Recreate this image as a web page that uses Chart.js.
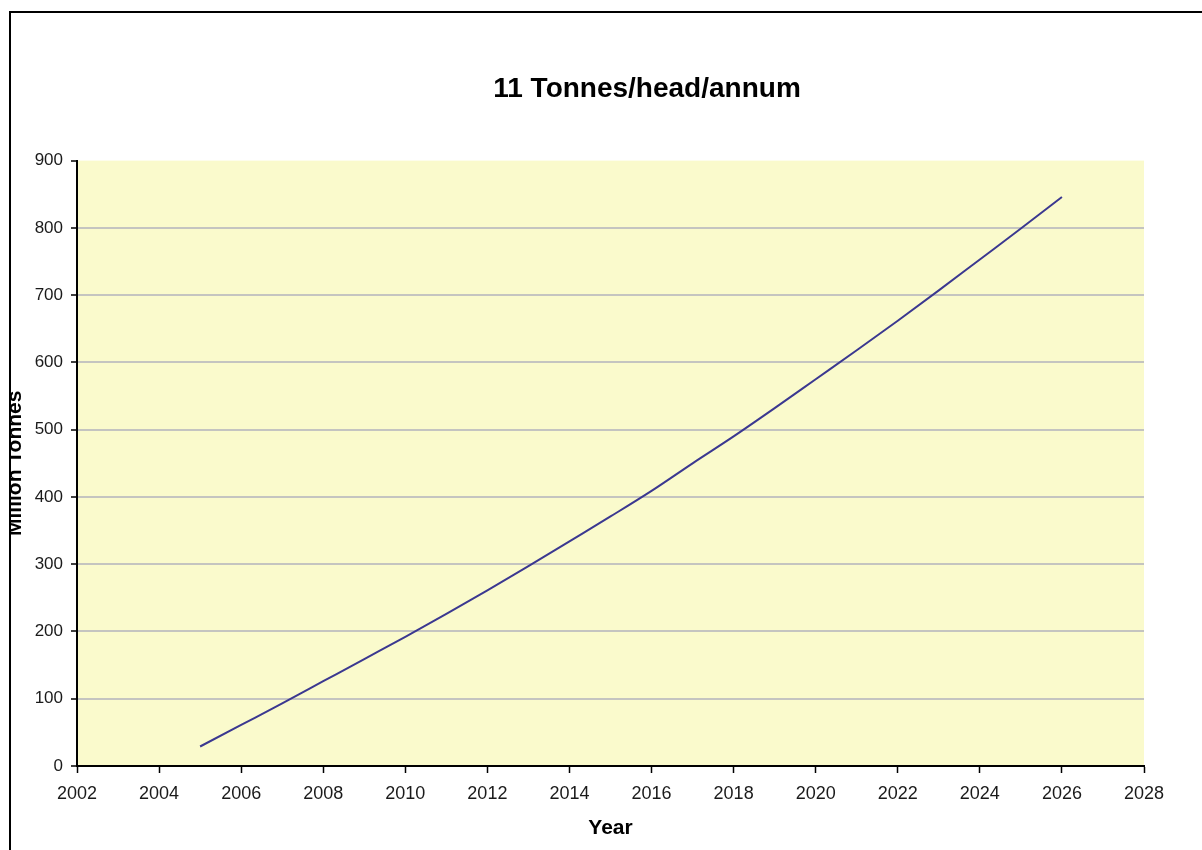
<!DOCTYPE html>
<html>
<head>
<meta charset="utf-8">
<title>11 Tonnes/head/annum</title>
<script src="https://cdn.jsdelivr.net/npm/chart.js@4/dist/chart.umd.min.js"></script>
<style>
  html, body { margin: 0; padding: 0; background: #ffffff; overflow: hidden; }
  #wrap { position: relative; width: 1202px; height: 850px; }
  #chart { position: absolute; left: 0; top: 0; }
  #frame {
    position: absolute; left: 9px; top: 11px; width: 1400px; height: 1000px;
    border-left: 2px solid #000; border-top: 2px solid #000;
    pointer-events: none;
  }
  /* everything outside the frame stays blank */
  #outside { position: absolute; left: 0; top: 0; width: 9px; height: 850px; background: #fff; pointer-events: none; }
</style>
</head>
<body>
<div id="wrap">
  <canvas id="chart" width="1202" height="850"></canvas>
  <div id="outside"></div>
  <div id="frame"></div>
</div>
<script>
// Annual emissions, million tonnes, at 11 tonnes per head per year
const years = [2005, 2006, 2007, 2008, 2009, 2010, 2011, 2012, 2013, 2014, 2015,
               2016, 2017, 2018, 2019, 2020, 2021, 2022, 2023, 2024, 2025, 2026];
const emissions = [29, 61, 93, 126, 159, 192, 226, 261, 297, 334, 371,
                   409, 450, 490, 532, 575, 618, 662, 707, 753, 799, 846];

const xTicks = [2002, 2004, 2006, 2008, 2010, 2012, 2014, 2016, 2018, 2020, 2022, 2024, 2026, 2028];
const yTicks = [0, 100, 200, 300, 400, 500, 600, 700, 800, 900];

const chartTitle = '11 Tonnes/head/annum';
const xTitle = 'Year';
const yTitle = 'Million Tonnes';

const FONT = '"Liberation Sans", Arial, sans-serif';

// Pale yellow plot area behind the series
const plotBackground = {
  id: 'plotBackground',
  beforeDraw(chart) {
    const { ctx, chartArea: a } = chart;
    ctx.save();
    ctx.fillStyle = '#FAFACC';
    ctx.fillRect(a.left, a.top, a.right - a.left, a.bottom - a.top);
    ctx.restore();
  }
};

// Centre the heading slightly right of the plot
const titlePlacement = {
  id: 'titlePlacement',
  afterLayout(chart) {
    const t = chart.titleBlock;
    if (!t) return;
    const w = t.right - t.left;
    const cx = 647;
    t.left = cx - w / 2;
    t.right = cx + w / 2;
  }
};

new Chart(document.getElementById('chart'), {
  type: 'line',
  data: {
    datasets: [{
      data: years.map((y, i) => ({ x: y, y: emissions[i] })),
      borderColor: '#3B3890',
      borderWidth: 2,
      pointRadius: 0,
      cubicInterpolationMode: 'monotone',
      fill: false
    }]
  },
  options: {
    responsive: false,
    animation: false,
    layout: { padding: { left: 0, right: 58, top: 0, bottom: 0 } },
    plugins: {
      legend: { display: false },
      tooltip: { enabled: false },
      title: {
        display: true,
        text: chartTitle,
        color: '#000',
        font: { family: FONT, size: 28, weight: 'bold' },
        padding: { top: 72, bottom: 55 }
      }
    },
    scales: {
      x: {
        type: 'linear',
        min: xTicks[0],
        max: xTicks[xTicks.length - 1],
        afterBuildTicks(scale) { scale.ticks = xTicks.map(v => ({ value: v })); },
        afterFit(scale) { scale.height = 84; },
        ticks: {
          color: '#1a1a1a',
          font: { family: FONT, size: 18 },
          padding: 10,
          maxRotation: 0,
          autoSkip: false,
          callback: v => String(v)
        },
        grid: {
          drawOnChartArea: false,
          drawTicks: true,
          tickLength: 7,
          tickColor: '#000',
          tickWidth: 1.5
        },
        border: { display: true, color: '#000', width: 2 },
        title: {
          display: true,
          text: xTitle,
          color: '#000',
          font: { family: FONT, size: 21, weight: 'bold' },
          padding: { top: 0, bottom: 9 }
        }
      },
      y: {
        type: 'linear',
        min: yTicks[0],
        max: yTicks[yTicks.length - 1],
        afterBuildTicks(scale) { scale.ticks = yTicks.map(v => ({ value: v })); },
        afterFit(scale) { scale.width = 77; },
        ticks: {
          color: '#1a1a1a',
          font: { family: FONT, size: 17 },
          padding: 8,
          callback: v => String(v)
        },
        grid: {
          color: ctx => (ctx.tick && (ctx.tick.value === 900 || ctx.tick.value === 0)) ? 'rgba(0,0,0,0)' : '#C4C4C0',
          lineWidth: 2,
          drawTicks: true,
          tickLength: 6,
          tickColor: '#000',
          tickWidth: 1.5
        },
        border: { display: true, color: '#000', width: 2 },
        title: {
          display: true,
          text: yTitle,
          color: '#000',
          font: { family: FONT, size: 21, weight: 'bold' },
          padding: { top: 3, bottom: 0 }
        }
      }
    }
  },
  plugins: [plotBackground, titlePlacement]
});
</script>
</body>
</html>
